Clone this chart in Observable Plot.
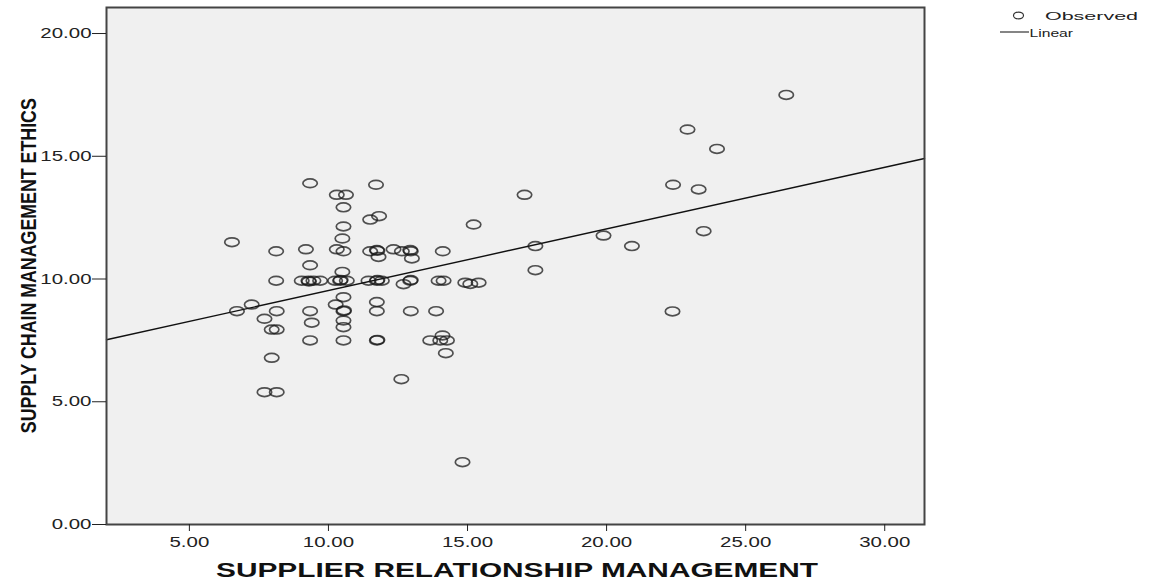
<!DOCTYPE html>
<html><head><meta charset="utf-8">
<script src="https://cdn.jsdelivr.net/npm/d3@7"></script>
<script src="https://cdn.jsdelivr.net/npm/@observablehq/plot@0.6"></script>
<style>body{margin:0;background:#fff;} svg{display:block}</style>
</head><body><div id="chart"></div>
<script>
// SUPPLIER RELATIONSHIP MANAGEMENT (x) values
const srm = [
  9.34, 11.71, 10.30, 10.63, 10.54, 11.50, 11.82, 15.22, 10.54, 6.53,
  10.50, 8.12, 9.19, 10.30, 10.54, 11.50, 11.74, 11.76, 11.80, 12.34,
  12.64, 12.94, 12.96, 13.00, 14.11, 9.34, 10.50, 8.12, 9.04, 9.28,
  9.30, 9.46, 9.70, 10.24, 10.42, 10.44, 10.66, 11.44, 11.74, 11.76,
  11.92, 12.70, 12.94, 12.96, 13.96, 14.14, 14.92, 15.10, 15.40, 10.54,
  10.26, 11.74, 7.24, 6.71, 8.14, 9.34, 10.54, 10.56, 11.74, 12.96,
  13.87, 7.70, 9.40, 10.54, 10.54, 7.96, 8.14, 9.34, 10.54, 11.74,
  11.76, 13.66, 14.02, 14.26, 14.10, 14.22, 7.96, 12.62, 7.70, 8.14,
  14.82, 26.46, 22.91, 23.97, 22.39, 23.31, 17.05, 23.49, 19.89, 20.91,
  17.44, 17.44, 22.37
];
// SUPPLY CHAIN MANAGEMENT ETHICS (y) values
const scme = [
  13.90, 13.84, 13.43, 13.43, 12.92, 12.42, 12.56, 12.22, 12.14, 11.50,
  11.65, 11.13, 11.21, 11.21, 11.13, 11.13, 11.18, 11.15, 10.90, 11.21,
  11.13, 11.18, 11.13, 10.84, 11.13, 10.56, 10.29, 9.93, 9.93, 9.93,
  9.90, 9.93, 9.93, 9.93, 9.93, 9.96, 9.93, 9.93, 9.93, 9.96,
  9.93, 9.79, 9.93, 9.96, 9.93, 9.93, 9.85, 9.80, 9.85, 9.26,
  8.96, 9.06, 8.96, 8.69, 8.69, 8.69, 8.69, 8.72, 8.69, 8.69,
  8.69, 8.38, 8.22, 8.31, 8.04, 7.94, 7.94, 7.50, 7.50, 7.50,
  7.52, 7.50, 7.50, 7.50, 7.70, 6.98, 6.79, 5.92, 5.39, 5.39,
  2.54, 17.50, 16.09, 15.30, 13.84, 13.65, 13.43, 11.95, 11.77, 11.34,
  11.34, 10.36, 8.68
];
const xTicks = [5, 10, 15, 20, 25, 30];
const yTicks = [0, 5, 10, 15, 20];
const xDomain = [2.02, 31.43];
const yDomain = [0, 21.06];
// Linear fit
const fitIntercept = 7.02;
const fitSlope = 0.251;
const legendLabels = ["Observed", "Linear"];
const xTitle = "SUPPLIER RELATIONSHIP MANAGEMENT";
const yTitle = "SUPPLY CHAIN MANAGEMENT ETHICS";

const points = srm.map((x, i) => ({x, y: scme[i]}));
const K = 0.5523;
function ellipse(rx, ry) {
  return {
    draw(ctx) {
      ctx.moveTo(rx, 0);
      ctx.bezierCurveTo(rx, ry * K, rx * K, ry, 0, ry);
      ctx.bezierCurveTo(-rx * K, ry, -rx, ry * K, -rx, 0);
      ctx.bezierCurveTo(-rx, -ry * K, -rx * K, -ry, 0, -ry);
      ctx.bezierCurveTo(rx * K, -ry, rx, -ry * K, rx, 0);
      ctx.closePath();
    }
  };
}

const chart = Plot.plot({
  width: 1153, height: 583,
  marginLeft: 106, marginRight: 229, marginTop: 7, marginBottom: 59,
  style: {fontFamily: "'Liberation Sans', Arial, sans-serif", fontSize: "14.5px", color: "#222", background: "#fff", overflow: "visible"},
  x: {domain: xDomain},
  y: {domain: yDomain},
  marks: [
    Plot.frame({fill: "#f0f0f0"}),
    Plot.line(xDomain, {x: d => d, y: d => fitIntercept + fitSlope * d, stroke: "#111", strokeWidth: 1.4}),
    Plot.dot(points, {x: "x", y: "y", symbol: ellipse(7.2, 4.4), fill: "none", stroke: "#1a1a1a", strokeOpacity: 0.75, strokeWidth: 1.7}),
    Plot.frame({stroke: "#444", strokeWidth: 2}),
    Plot.axisX({ticks: xTicks, tickFormat: d3.format(".2f"), tickSize: 7, tickPadding: 5, label: null, fontSize: 14.5}),
    Plot.axisY({ticks: yTicks, tickFormat: d3.format(".2f"), tickSize: 14, tickPadding: 1, label: null, fontSize: 14.5})
  ]
});
document.getElementById("chart").appendChild(chart);

const svg = d3.select(chart);
svg.selectAll('g[aria-label="x-axis tick label"] text, g[aria-label="y-axis tick label"] text').each(function() {
  const w = this.getComputedTextLength();
  this.setAttribute("textLength", (w * 1.41).toFixed(1));
  this.setAttribute("lengthAdjust", "spacingAndGlyphs");
});

// axis titles
svg.append("text")
  .attr("x", 517).attr("y", 576.5)
  .attr("text-anchor", "middle")
  .attr("font-weight", "bold").attr("font-size", 21)
  .attr("fill", "#111")
  .attr("textLength", 602).attr("lengthAdjust", "spacingAndGlyphs")
  .text(xTitle);
svg.append("g")
  .attr("transform", "translate(35.5,265.7) rotate(-90) scale(1,1.22)")
  .append("text")
  .attr("text-anchor", "middle")
  .attr("font-weight", "bold").attr("font-size", 17.7)
  .attr("fill", "#111")
  .attr("textLength", 335).attr("lengthAdjust", "spacingAndGlyphs")
  .text(yTitle);

// legend
const lg = svg.append("g").attr("font-size", 11.6).attr("fill", "#222").attr("text-anchor", "start");
lg.append("path")
  .attr("transform", "translate(1018.5,15.5)")
  .attr("d", (() => { const p = d3.path(); ellipse(5, 3.4).draw(p); return p.toString(); })())
  .attr("fill", "none").attr("stroke", "#333").attr("stroke-width", 1.2);
lg.append("text").attr("x", 1045).attr("y", 19.8)
  .attr("text-anchor", "start")
  .attr("textLength", 93).attr("lengthAdjust", "spacingAndGlyphs")
  .text(legendLabels[0]);
lg.append("line").attr("x1", 1000).attr("x2", 1029).attr("y1", 32).attr("y2", 32)
  .attr("stroke", "#222").attr("stroke-width", 1.1);
lg.append("text").attr("x", 1029.5).attr("y", 36.8)
  .attr("text-anchor", "start")
  .attr("textLength", 43.5).attr("lengthAdjust", "spacingAndGlyphs")
  .text(legendLabels[1]);
</script>
</body></html>
